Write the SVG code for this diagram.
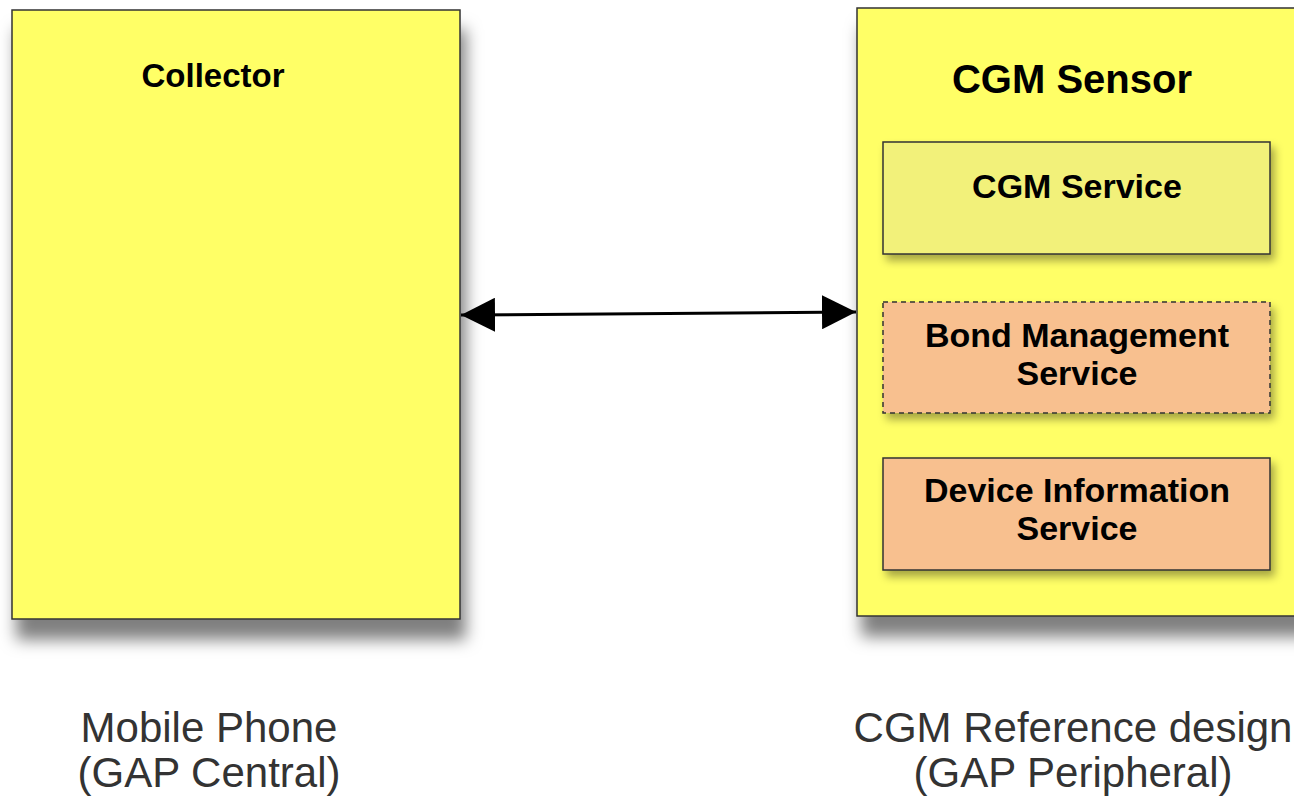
<svg xmlns="http://www.w3.org/2000/svg" width="1294" height="803" viewBox="0 0 1294 803">
  <style>
    .box { stroke: #333; stroke-width: 1.5; }
    .outer { fill: #ffff66; }
    .cgm { fill: #f2f17a; }
    .svc { fill: #f8c08f; }
    .dash { stroke-dasharray: 5 4; }
    .bold { font-family: "Liberation Sans", Arial, sans-serif; font-weight: bold; fill: #000; text-anchor: middle; }
    .cap { font-family: "Liberation Sans", Arial, sans-serif; fill: #333; text-anchor: middle; font-size: 42px; }
    .link { stroke: #000; stroke-width: 3; fill: none; }
  </style>
  <defs>
    <filter id="bigShadow" x="-10%" y="-10%" width="130%" height="130%">
      <feDropShadow dx="5" dy="20" stdDeviation="8" flood-color="#000" flood-opacity="0.5"/>
    </filter>
    <filter id="smallShadow" x="-10%" y="-20%" width="130%" height="150%">
      <feDropShadow dx="4" dy="6" stdDeviation="4" flood-color="#000" flood-opacity="0.35"/>
    </filter>
    <marker id="head" viewBox="0 0 34 34" refX="34" refY="17" markerWidth="34" markerHeight="34" markerUnits="userSpaceOnUse" orient="auto-start-reverse">
      <path d="M0,0 L34,17 L0,34 Z" fill="#000"/>
    </marker>
  </defs>

  <rect width="1294" height="803" fill="#fff"/>

  <!-- Collector (mobile phone side) -->
  <g id="collector">
    <rect class="box outer" x="12" y="10" width="448" height="609" filter="url(#bigShadow)"/>
    <text class="bold" x="213" y="87" font-size="33">Collector</text>
  </g>

  <!-- CGM Sensor container -->
  <g id="cgm-sensor">
    <rect class="box outer" x="857" y="8" width="460" height="608" filter="url(#bigShadow)"/>
    <text class="bold" x="1072" y="93" font-size="40">CGM Sensor</text>
  </g>

  <g id="cgm-service">
    <rect class="box cgm" x="883" y="142" width="387" height="112" filter="url(#smallShadow)"/>
    <text class="bold" x="1077" y="198" font-size="34">CGM Service</text>
  </g>

  <g id="bond-management">
    <rect class="box svc dash" x="883" y="302" width="387" height="111" filter="url(#smallShadow)"/>
    <text class="bold" x="1077" y="347" font-size="34">Bond Management</text>
    <text class="bold" x="1077" y="385" font-size="34">Service</text>
  </g>

  <g id="device-information">
    <rect class="box svc" x="883" y="458" width="387" height="112" filter="url(#smallShadow)"/>
    <text class="bold" x="1077" y="502" font-size="34">Device Information</text>
    <text class="bold" x="1077" y="540" font-size="34">Service</text>
  </g>

  <!-- Bidirectional link between central and peripheral -->
  <g id="connectors">
    <line class="link" x1="461" y1="315" x2="856" y2="312" marker-start="url(#head)" marker-end="url(#head)"/>
  </g>

  <!-- Role captions -->
  <g id="captions">
    <text class="cap" x="209" y="742">Mobile Phone</text>
    <text class="cap" x="209" y="787">(GAP Central)</text>
    <text class="cap" x="1073" y="742">CGM Reference design</text>
    <text class="cap" x="1073" y="787">(GAP Peripheral)</text>
  </g>
</svg>
